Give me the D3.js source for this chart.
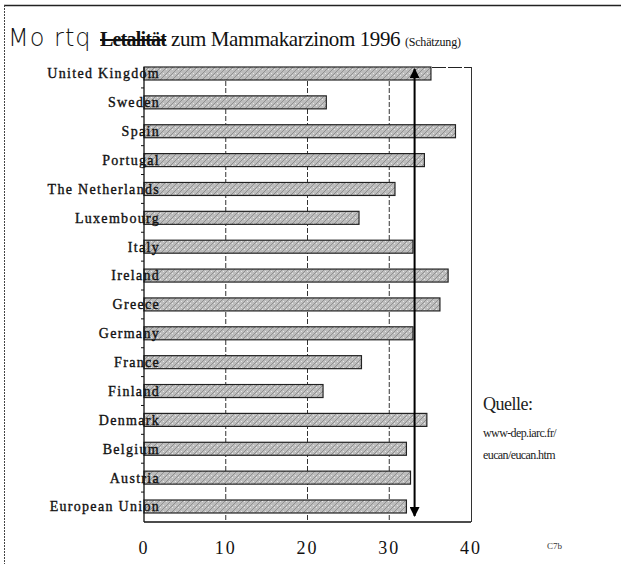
<!DOCTYPE html>
<html>
<head>
<meta charset="utf-8">
<script src="https://cdn.jsdelivr.net/npm/d3@7"></script>
<style>
  html, body { margin: 0; padding: 0; background: #fff; }
  svg { display: block; }
</style>
</head>
<body>
<div id="chart"></div>
<script>
// data, top to bottom as in the picture
const countries = [
    'United Kingdom', 'Sweden', 'Spain', 'Portugal', 'The Netherlands',
    'Luxembourg', 'Italy', 'Ireland', 'Greece', 'Germany', 'France',
    'Finland', 'Denmark', 'Belgium', 'Austria', 'European Union'
];
const mortality = [
    35.1, 22.3, 38.1, 34.3, 30.7, 26.3, 32.9, 37.2, 36.2,
    32.9, 26.6, 21.9, 34.6, 32.1, 32.6, 32.1
];
const xTicks = [0, 10, 20, 30, 40];
const rangeMarker = 33.1;

const width = 621, height = 564;
const margin = {top: 67, right: 150, bottom: 42, left: 144};

const svg = d3.select('#chart')
    .append('svg')
    .attr('width', width)
    .attr('height', height);

// bar texture (speckled grey like the scan)
const defs = svg.append('defs');
const pat = defs.append('pattern')
    .attr('id', 'speckle')
    .attr('patternUnits', 'userSpaceOnUse')
    .attr('width', 6)
    .attr('height', 6);
pat.append('rect').attr('width', 6).attr('height', 6).attr('fill', '#bdbdbd');
pat.append('path')
    .attr('d', 'M0,6 L6,0 M-1,1 L1,-1 M5,7 L7,5')
    .attr('stroke', '#909090')
    .attr('stroke-width', 1);
pat.append('rect').attr('x', 1).attr('y', 1).attr('width', 1).attr('height', 1).attr('fill', '#e8e8e8');
pat.append('rect').attr('x', 4).attr('y', 3).attr('width', 1).attr('height', 1).attr('fill', '#e8e8e8');

// outer frame of the scanned page
svg.append('line')
    .attr('x1', 4).attr('x2', 621).attr('y1', 5.5).attr('y2', 5.5)
    .attr('stroke', '#222').attr('stroke-width', 1.5);
svg.append('line')
    .attr('x1', 4.5).attr('x2', 4.5).attr('y1', 5).attr('y2', 564)
    .attr('stroke', '#444').attr('stroke-width', 1)
    .attr('stroke-dasharray', '2 1');

// title: handwritten correction, struck-out word, then printed title
svg.append('text')
    .attr('x', 8).attr('y', 46)
    .attr('font-family', 'DejaVu Sans')
    .attr('font-weight', 300)
    .attr('font-size', 24)
    .attr('letter-spacing', 1)
    .attr('fill', '#111')
    .text('Mo rtq');
const title = svg.append('text')
    .attr('x', 100)
    .attr('y', 46)
    .attr('fill', '#111')
    .attr('font-family', 'Liberation Serif');
title.append('tspan')
    .attr('font-size', 20)
    .attr('text-decoration', 'line-through')
    .attr('font-weight', 'bold')
    .attr('letter-spacing', -0.8)
    .text('Letalität');
title.append('tspan')
    .attr('font-size', 21)
    .attr('letter-spacing', -0.4)
    .text(' zum Mammakarzinom 1996 ');
title.append('tspan')
    .attr('font-size', 12)
    .attr('letter-spacing', -0.2)
    .text('(Schätzung)');

const x = d3.scaleLinear()
    .domain([0, 40])
    .range([margin.left, 471]);

const y = d3.scaleBand()
    .domain(countries)
    .range([67, 513])
    .paddingInner(0.55)
    .paddingOuter(0);

const plotBottom = 522;

// gridlines
svg.append('g')
    .selectAll('line')
    .data(xTicks.filter(d => d > 0 && d < 40))
    .join('line')
    .attr('x1', d => x(d)).attr('x2', d => x(d))
    .attr('y1', margin.top).attr('y2', plotBottom)
    .attr('stroke', '#333')
    .attr('stroke-width', 1)
    .attr('stroke-dasharray', '5 2');

// plot frame: top dashed, right solid
svg.append('line')
    .attr('x1', x(0)).attr('x2', x(40))
    .attr('y1', margin.top + 0.5).attr('y2', margin.top + 0.5)
    .attr('stroke', '#222').attr('stroke-dasharray', '14 2');
svg.append('line')
    .attr('x1', x(40) + 0.5).attr('x2', x(40) + 0.5)
    .attr('y1', margin.top).attr('y2', plotBottom)
    .attr('stroke', '#333').attr('stroke-width', 1);

// bars
svg.append('g')
    .selectAll('rect')
    .data(mortality)
    .join('rect')
    .attr('x', x(0))
    .attr('y', (d, i) => y(countries[i]))
    .attr('width', d => x(d) - x(0))
    .attr('height', y.bandwidth())
    .attr('fill', 'url(#speckle)')
    .attr('stroke', '#222')
    .attr('stroke-width', 1.2);

// y axis with ticks between categories
const gap = (y.step() - y.bandwidth()) / 2;
svg.append('line')
    .attr('x1', x(0)).attr('x2', x(0))
    .attr('y1', margin.top).attr('y2', plotBottom)
    .attr('stroke', '#111').attr('stroke-width', 1.3);
svg.append('g')
    .selectAll('line')
    .data(countries.slice(1))
    .join('line')
    .attr('x1', x(0) - 3).attr('x2', x(0))
    .attr('y1', d => y(d) - gap)
    .attr('y2', d => y(d) - gap)
    .attr('stroke', '#111');

// x axis line
svg.append('line')
    .attr('x1', x(0)).attr('x2', x(40))
    .attr('y1', plotBottom).attr('y2', plotBottom)
    .attr('stroke', '#111').attr('stroke-width', 1.3);

// category labels (they overlap the bar starts, as in the scan)
svg.append('g')
    .selectAll('text')
    .data(countries)
    .join('text')
    .attr('x', 160)
    .attr('y', d => y(d) + y.bandwidth() / 2)
    .attr('dy', '0.35em')
    .attr('text-anchor', 'end')
    .attr('font-family', 'Liberation Serif')
    .attr('font-size', 14)
    .attr('letter-spacing', 1.3)
    .attr('fill', '#111')
    .attr('stroke', '#111')
    .attr('stroke-width', 0.35)
    .text(d => d);

// x tick labels
svg.append('g')
    .selectAll('text')
    .data(xTicks)
    .join('text')
    .attr('x', d => x(d))
    .attr('y', 554)
    .attr('text-anchor', 'middle')
    .attr('font-family', 'Liberation Serif')
    .attr('font-size', 18)
    .attr('letter-spacing', 2)
    .attr('fill', '#111')
    .text(d => d);

// range marker: double-headed arrow
defs.append('marker')
    .attr('id', 'head')
    .attr('viewBox', '0 0 10 10')
    .attr('refX', 9).attr('refY', 5)
    .attr('markerWidth', 6).attr('markerHeight', 5)
    .attr('markerUnits', 'strokeWidth')
    .attr('orient', 'auto-start-reverse')
    .append('path')
    .attr('d', 'M0,0 L10,5 L0,10 Z')
    .attr('fill', '#000');
svg.append('line')
    .attr('x1', x(rangeMarker)).attr('x2', x(rangeMarker))
    .attr('y1', margin.top + 2).attr('y2', 516)
    .attr('stroke', '#000').attr('stroke-width', 2)
    .attr('marker-start', 'url(#head)')
    .attr('marker-end', 'url(#head)');

// source note
svg.append('text')
    .attr('x', 483).attr('y', 410)
    .attr('font-family', 'Liberation Serif')
    .attr('font-size', 18)
    .attr('letter-spacing', -0.5)
    .attr('fill', '#222')
    .text('Quelle:');
svg.append('text')
    .attr('x', 483).attr('y', 437)
    .attr('font-family', 'Liberation Serif')
    .attr('font-size', 12)
    .attr('letter-spacing', -0.6)
    .attr('fill', '#222')
    .text('www-dep.iarc.fr/');
svg.append('text')
    .attr('x', 483).attr('y', 459)
    .attr('font-family', 'Liberation Serif')
    .attr('font-size', 12)
    .attr('letter-spacing', -0.6)
    .attr('fill', '#222')
    .text('eucan/eucan.htm');

svg.append('text')
    .attr('x', 547).attr('y', 549)
    .attr('font-family', 'Liberation Serif')
    .attr('font-size', 9)
    .attr('fill', '#333')
    .text('C7b');
</script>
</body>
</html>
